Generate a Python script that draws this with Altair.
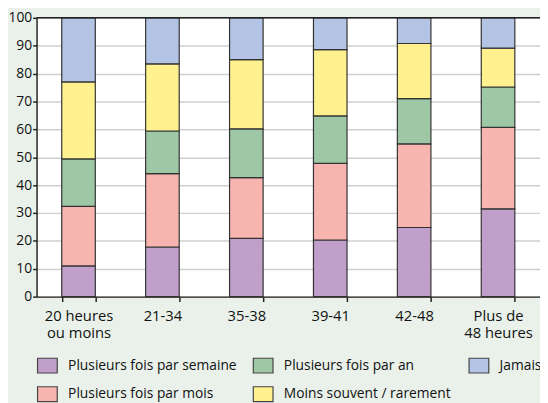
import altair as alt
import pandas as pd

categories = ["20 heures|ou moins", "21-34", "35-38", "39-41", "42-48", "Plus de|48 heures"]
series = ["Plusieurs fois par semaine", "Plusieurs fois par mois", "Plusieurs fois par an",
          "Moins souvent / rarement", "Jamais"]
semaine = [11.0, 17.8, 20.9, 20.3, 24.8, 31.5]
mois = [21.4, 26.3, 21.8, 27.5, 30.0, 29.2]
an = [17.0, 15.3, 17.5, 17.0, 16.2, 14.5]
moins = [27.6, 24.1, 24.8, 23.8, 19.8, 13.9]
jamais = [23.0, 16.5, 15.0, 11.4, 9.2, 10.9]
y_ticks = [0, 10, 20, 30, 40, 50, 60, 70, 80, 90, 100]
colors = ["#c09fca", "#f8b5b0", "#9ec8a5", "#fff28e", "#b3c4e4"]

values = [semaine, mois, an, moins, jamais]
rows = []
for si, (name, vals) in enumerate(zip(series, values)):
    for ci, cat in enumerate(categories):
        rows.append({"cat": cat, "serie": name, "val": vals[ci], "ord": si})
df = pd.DataFrame(rows)

# legend order (row-major, 3 columns)
legend_order = [series[0], series[2], series[4], series[1], series[3]]
legend_colors = [colors[series.index(s)] for s in legend_order]

FONT = "Open Sans"

y_axis = alt.Axis(values=y_ticks, tickSize=4, tickColor="#222222",
                  tickWidth=1.5, domainColor="#222222", domainWidth=1.5,
                  gridColor="#cfcfcf", gridWidth=1.5, labelOverlap=False,
                  labelFontSize=14, labelFont=FONT, labelColor="#111111",
                  labelPadding=1)
y_scale = alt.Scale(domain=[0, 100], nice=False)

bars = alt.Chart(df).mark_bar(stroke="#333333", strokeWidth=1.2).encode(
    x=alt.X("cat:N", sort=categories, title=None,
            scale=alt.Scale(paddingInner=0.6, paddingOuter=0.3),
            axis=alt.Axis(labelExpr="split(datum.label, '|')", labelAngle=0,
                          tickBand="extent", tickSize=5, tickColor="#222222", tickWidth=1.5,
                          domainColor="#222222", domainWidth=1.5,
                          labelFontSize=15, labelFont=FONT, labelColor="#111111",
                          labelPadding=7, labelLineHeight=18, grid=False, labelOverlap=False)),
    y=alt.Y("val:Q", stack="zero", title=None, scale=y_scale, axis=y_axis),
    color=alt.Color("serie:N", scale=alt.Scale(domain=legend_order, range=legend_colors),
                    legend=alt.Legend(orient="none", legendX=0, legendY=342, direction="horizontal",
                                      columns=3, gridAlign="all", title=None, padding=0,
                                      symbolType="M-1,-0.75H1V0.75H-1Z", symbolSize=400,
                                      symbolStrokeColor="#444444", symbolStrokeWidth=1.2,
                                      symbolOpacity=1,
                                      labelFontSize=14, labelFont=FONT, labelColor="#111111",
                                      labelOffset=10, labelLimit=400,
                                      columnPadding=13, rowPadding=8)),
    order=alt.Order("ord:Q", sort="ascending"),
)

top = alt.Chart(pd.DataFrame({"v": [100]})).mark_rule(color="#222222", strokeWidth=1.5).encode(
    y=alt.Y("v:Q", title=None, scale=y_scale, axis=y_axis)
)

chart = alt.layer(bars, top).properties(
    width=511, height=283,
    autosize=alt.AutoSizeParams(type="none"),
    padding={"left": 29, "top": 7, "right": 0, "bottom": 105},
    background="#eaf1ea",
).configure_view(stroke=None, fill="#ffffff")

chart.save("out.html", embed_options={"renderer": "svg", "actions": False})
